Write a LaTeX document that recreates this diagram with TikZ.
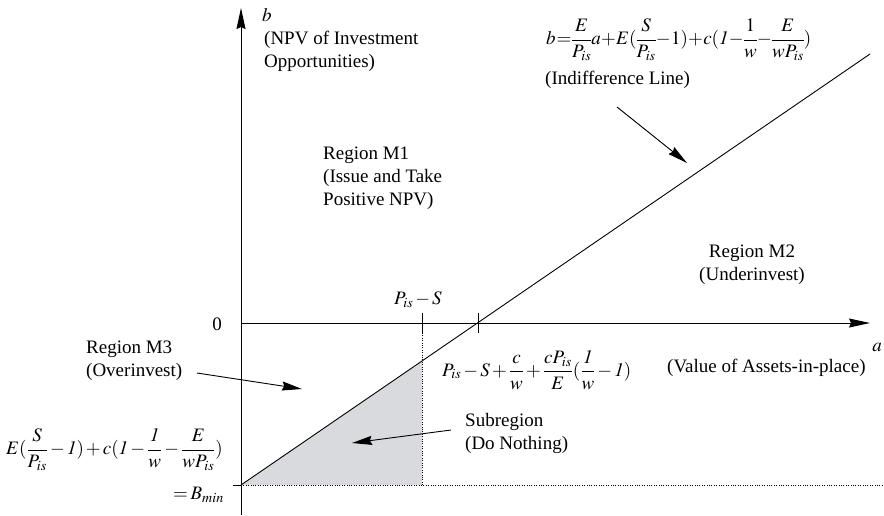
\documentclass[tikz,border=0pt]{standalone}
\usepackage{mathptmx}
\usepackage{fontspec}
\setmainfont{Liberation Serif}
\usetikzlibrary{arrows.meta}
\definecolor{shadegray}{RGB}{217,218,221}
\tikzset{
  lbl/.style={inner sep=0pt, font=\fontsize{19}{23}\selectfont, align=left},
  axisline/.style={line width=1pt, -{Stealth[length=21pt,width=9pt,inset=2pt]}},
  pointer/.style={line width=0.9pt, -{Stealth[length=20pt,width=9pt,inset=2pt]}},
  lineA/.style={line width=0.9pt},
  dots/.style={line width=0.8pt, dash pattern=on 0.8pt off 1.6pt}
}
\begin{document}
\begin{tikzpicture}[x=1pt,y=-1pt]
\useasboundingbox (0,0) rectangle (884,515);
\medmuskip=2mu \thickmuskip=2.5mu
% coordinates
\coordinate (O) at (241,323);
\coordinate (ytop) at (241,8);
\coordinate (ybot) at (241,515);
\coordinate (xend) at (870,323);
\coordinate (Bmin) at (241,485);
\coordinate (Bl) at (233,485);
\coordinate (L1) at (870,54);
\coordinate (t1a) at (422,313);
\coordinate (t1b) at (422,333);
\coordinate (t2a) at (478,313);
\coordinate (t2b) at (478,333);
\coordinate (G) at (422,361.3);
\coordinate (D1) at (422,485);
\coordinate (Dend) at (884,485);
\coordinate (pa1) at (617,107);
\coordinate (pa2) at (687,163);
\coordinate (pm1) at (197,373);
\coordinate (pm2) at (302,389);
\coordinate (ps1) at (451,430);
\coordinate (ps2) at (352,443);
% shading
\fill[shadegray] (Bmin) -- (D1) -- (G) -- cycle;
\draw[dots] (t1b) -- (D1);
\draw[dots] (Bmin) -- (Dend);
% axes
\draw[axisline] (ybot) -- (ytop);
\draw[axisline] (O) -- (xend);
\draw[lineA] (Bl) -- (Bmin);
\draw[lineA] (t1a) -- (t1b);
\draw[lineA] (t2a) -- (t2b);
\draw[lineA] (Bmin) -- (L1);
% pointers
\draw[pointer] (pa1) -- (pa2);
\draw[pointer] (pm1) -- (pm2);
\draw[pointer] (ps1) -- (ps2);
% labels
\node[lbl, anchor=west] (lb) at (262,15) {$b$};
\node[lbl, anchor=west] (lnpv) at (264,51.5) {(NPV of Investment\\Opportunities)};
\node[lbl, anchor=west] (leq) at (546,40) {\medmuskip=0.3mu \thickmuskip=0.8mu \nulldelimiterspace=0pt $\displaystyle b=\frac{E}{P_{is}}a+E(\frac{S}{P_{is}}-1)+c(\mathit{1}-\frac{1}{w}-\frac{E}{wP_{is}})$};
\node[lbl, anchor=west] (lind) at (545,80) {(Indifference Line)};
\node[lbl, anchor=west] (lm1) at (323,178) {Region M1\\(Issue and Take\\Positive NPV)};
\node[lbl, anchor=center, align=center] (lm2) at (752,265) {Region M2\\(Underinvest)};
\node[lbl] (lzero) at (217,324) {0};
\node[lbl] (lps) at (418,300) {$P_{is}-S$};
\node[lbl] (la) at (877,347) {$a$};
\node[lbl, anchor=west] (lcross) at (442,370) {$\displaystyle P_{is}-S+\frac{c}{w}+\frac{cP_{is}}{E}(\frac{\mathit{1}}{w}-\mathit{1})$};
\node[lbl, anchor=west] (lval) at (667,368) {(Value of Assets-in-place)};
\node[lbl, anchor=west] (lm3) at (86,361) {Region M3\\(Overinvest)};
\node[lbl, anchor=west] (lsub) at (465,433) {Subregion\\(Do Nothing)};
\node[lbl, anchor=east] (lbeq) at (223,450) {$\displaystyle E(\frac{S}{P_{is}}-\mathit{1})+c(\mathit{1}-\frac{\mathit{1}}{w}-\frac{E}{wP_{is}})$};
\node[lbl, anchor=east] (lbmin) at (224,495) {$=B_{min}$};
\end{tikzpicture}
\end{document}
